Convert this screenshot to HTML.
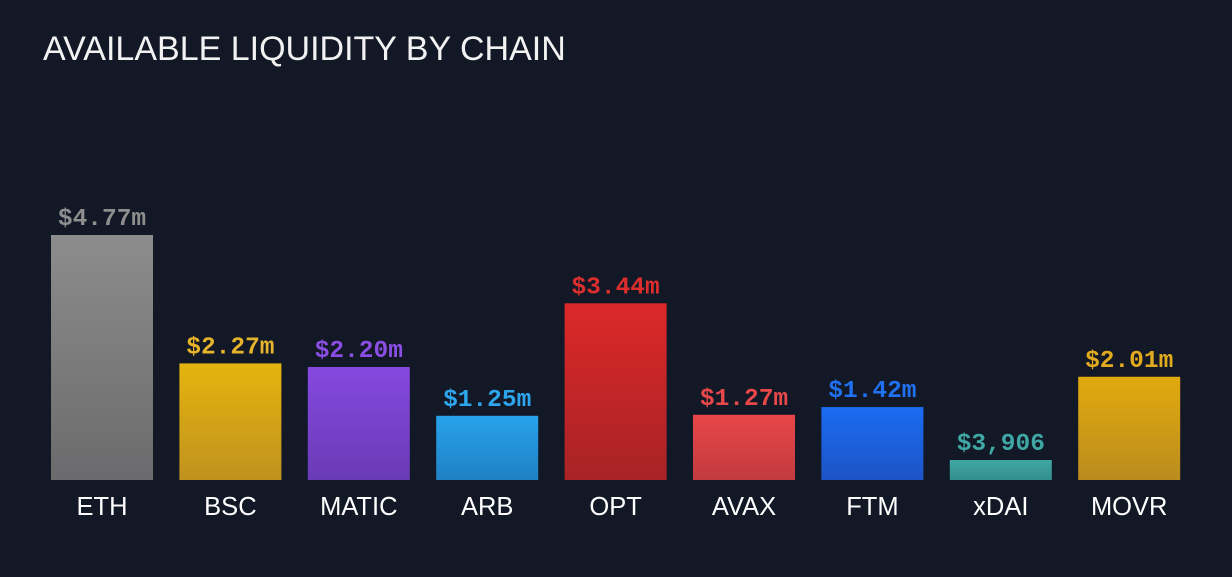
<!DOCTYPE html>
<html><head><meta charset="utf-8"><style>
html,body{margin:0;padding:0;background:#121826;}
body{width:1232px;height:572px;overflow:hidden;position:relative;}
</style></head><body>
<svg id="chart" width="1232" height="572" xmlns="http://www.w3.org/2000/svg">
<rect width="1232" height="572" fill="#121826"/>
<text x="43" y="60" font-family="Liberation Sans, sans-serif" font-size="34" fill="#f2f2f2">AVAILABLE LIQUIDITY BY CHAIN</text>
<defs id="defs"></defs>
<g id="bars"></g>
</svg>
<script>
const categories = ["ETH","BSC","MATIC","ARB","OPT","AVAX","FTM","xDAI","MOVR"];
const values = [4.77,2.27,2.20,1.25,3.44,1.27,1.42,0.003906,2.01];
const valueLabels = ["$4.77m","$2.27m","$2.20m","$1.25m","$3.44m","$1.27m","$1.42m","$3,906","$2.01m"];
const colorsTop = ["#8c8c8c","#e6b40e","#8649e0","#28a2ec","#dc2828","#e84648","#1b6cf2","#3fa8a4","#e2aa0e"];
const colorsBot = ["#6b6b6d","#bf921e","#6a3bb6","#2080c4","#a82327","#c23b40","#1c54c6","#338e8c","#ba8c1e"];
const labelColors = ["#8e8e8e","#e6b42a","#8a4ee4","#2ea6ee","#dd2e2e","#e8484a","#2070f2","#3fa8a4","#e2aa1e"];

const baseY = 480, pxPerUnit = 245/4.77, x0 = 51, step = 128.4, bw = 102, minH = 20;
const yScale = v => Math.max(v*pxPerUnit, minH);
const xScale = i => x0 + i*step;
const NS = "http://www.w3.org/2000/svg";
const g = document.getElementById('bars'), defs = document.getElementById('defs');
categories.forEach((c,i)=>{
  const grad = document.createElementNS(NS,'linearGradient');
  grad.setAttribute('id','g'+i); grad.setAttribute('x1','0'); grad.setAttribute('y1','0'); grad.setAttribute('x2','0'); grad.setAttribute('y2','1');
  grad.innerHTML = `<stop offset="0" stop-color="${colorsTop[i]}"/><stop offset="1" stop-color="${colorsBot[i]}"/>`;
  defs.appendChild(grad);
  const h = yScale(values[i]), x = xScale(i);
  const r = document.createElementNS(NS,'rect');
  
  
  r.setAttribute('x', x); r.setAttribute('y', baseY-h); r.setAttribute('width', bw); r.setAttribute('height', h);
  r.setAttribute('fill', 'url(#g'+i+')');
  g.appendChild(r);
  const t = document.createElementNS(NS,'text');
  
  
  t.setAttribute('x', x+bw/2); t.setAttribute('y', baseY-h-10);
  t.setAttribute('text-anchor','middle'); t.setAttribute('font-family','Liberation Mono, monospace');
  t.setAttribute('font-weight','bold'); t.setAttribute('font-size','24.5'); t.setAttribute('fill', labelColors[i]);
  t.textContent = valueLabels[i];
  g.appendChild(t);
  const l = document.createElementNS(NS,'text');
  
  
  l.setAttribute('x', x+bw/2); l.setAttribute('y', 515);
  l.setAttribute('text-anchor','middle'); l.setAttribute('font-family','Liberation Sans, sans-serif');
  l.setAttribute('font-size','25.5'); l.setAttribute('fill','#ffffff');
  l.textContent = c;
  g.appendChild(l);
});
</script>
</body></html>
